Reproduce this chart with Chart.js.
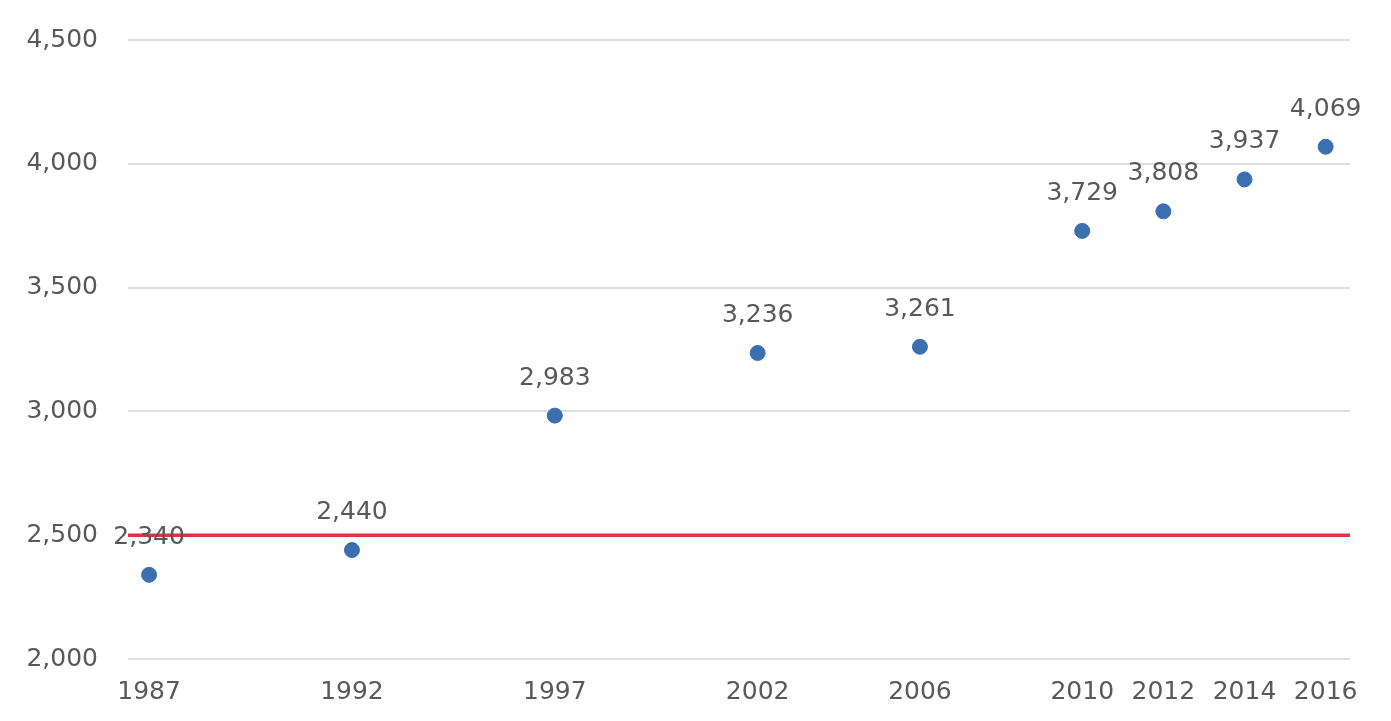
<!DOCTYPE html>
<html>
<head>
<meta charset="utf-8">
<script src="https://cdn.jsdelivr.net/npm/chart.js@4"></script>
<style>
  html, body { margin: 0; padding: 0; background: #fff; }
  #wrap { width: 1391px; height: 721px; }
</style>
</head>
<body>
<div id="wrap"><canvas id="chart" width="1391" height="721"></canvas></div>
<script>
// Datos
const years = [1987, 1992, 1997, 2002, 2006, 2010, 2012, 2014, 2016];
const values = [2340, 2440, 2983, 3236, 3261, 3729, 3808, 3937, 4069];
const threshold = 2500;
const yTicks = [2000, 2500, 3000, 3500, 4000, 4500];

const xMin = 1986.48;
const xMax = 2016.6;
const fmt = v => v.toLocaleString('en-US');

// Etiquetas de valor encima de cada punto
const pointLabels = {
    id: 'pointLabels',
    afterDatasetsDraw(chart) {
        const ctx = chart.ctx;
        const meta = chart.getDatasetMeta(0);
        ctx.save();
        ctx.font = '25px "DejaVu Sans"';
        ctx.fillStyle = '#595959';
        ctx.textAlign = 'center';
        ctx.textBaseline = 'bottom';
        meta.data.forEach((pt, i) => {
            ctx.fillText(fmt(values[i]), pt.x, pt.y - 25);
        });
        ctx.restore();
    }
};

new Chart(document.getElementById('chart'), {
    type: 'scatter',
    data: {
        datasets: [{
            label: 'valores',
            data: years.map((y, i) => ({ x: y, y: values[i] })),
            backgroundColor: '#3b6fb0',
            borderColor: '#3b6fb0',
            pointRadius: 7.5,
            pointHoverRadius: 7.5,
            order: 1
        }, {
            type: 'line',
            label: 'umbral',
            data: [{ x: xMin, y: threshold }, { x: xMax, y: threshold }],
            borderColor: '#dc3545',
            borderWidth: 3.5,
            pointRadius: 0,
            fill: false,
            order: 2
        }]
    },
    options: {
        responsive: false,
        animation: false,
        layout: { padding: { left: 0, right: 41, top: 40, bottom: 0 } },
        plugins: {
            legend: { display: false },
            tooltip: { enabled: false }
        },
        scales: {
            x: {
                type: 'linear',
                min: xMin,
                max: xMax,
                afterBuildTicks: s => { s.ticks = years.map(v => ({ value: v })); },
                afterFit: s => { s.height = 62; },
                grid: { display: false, drawTicks: false },
                border: { display: false },
                ticks: {
                    autoSkip: false,
                    maxRotation: 0,
                    padding: 18,
                    color: '#595959',
                    font: { family: 'DejaVu Sans', size: 25 },
                    callback: v => String(v)
                }
            },
            y: {
                min: 2000,
                max: 4500,
                afterBuildTicks: s => { s.ticks = yTicks.map(v => ({ value: v })); },
                afterFit: s => {
                    s.width = 128;
                    s.paddingTop = 0;
                    s.paddingBottom = 0;
                },
                grid: { color: '#dedede', lineWidth: 2, drawTicks: false },
                border: { display: false },
                ticks: {
                    padding: 30,
                    color: '#595959',
                    font: { family: 'DejaVu Sans', size: 25 },
                    callback: v => fmt(v)
                }
            }
        }
    },
    plugins: [pointLabels]
});
</script>
</body>
</html>
